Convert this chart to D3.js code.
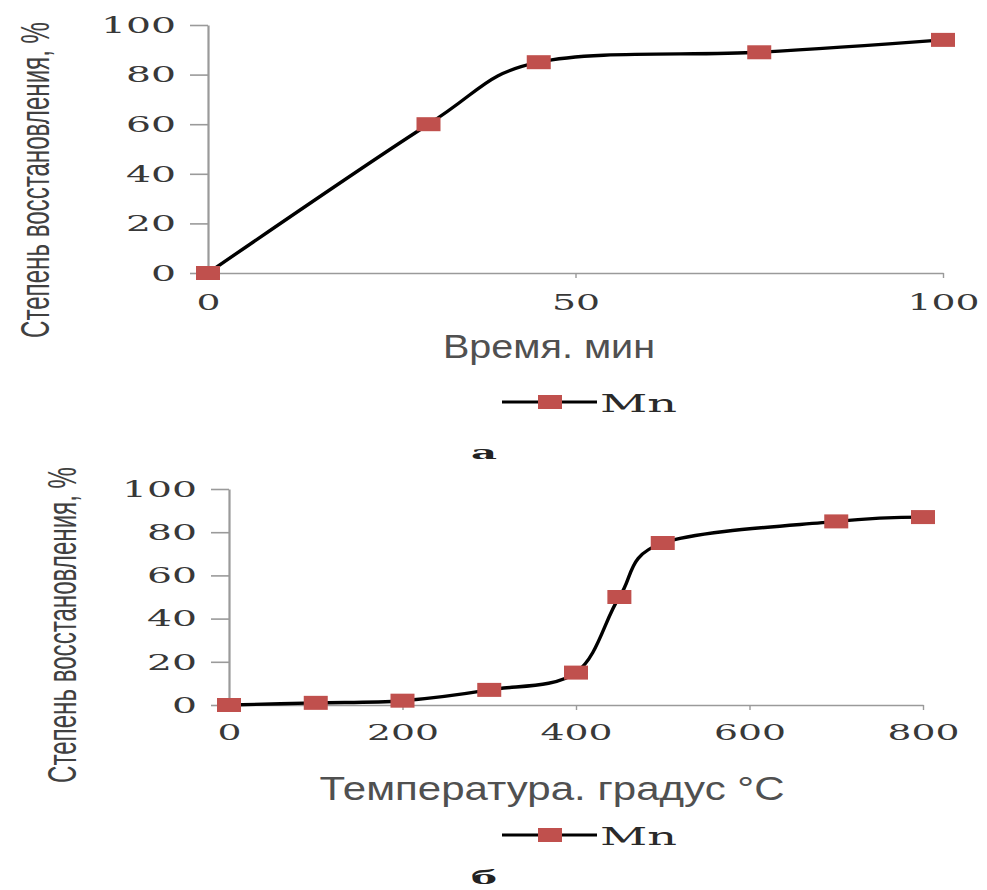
<!DOCTYPE html>
<html>
<head>
<meta charset="utf-8">
<script src="https://cdn.jsdelivr.net/npm/d3@7"></script>
<style>
  body { margin: 0; background: #fff; }
  svg { display: block; }
</style>
</head>
<body>
<svg id="chart"></svg>
<script>
// data
const timeMin = [0, 30, 45, 75, 100];
const mnByTime = [0, 60, 85, 89, 94];
const tempC = [0, 100, 200, 300, 400, 450, 500, 700, 800];
const mnByTemp = [0, 1, 2, 7, 15, 50, 75, 85, 87];
const yTicks = [0, 20, 40, 60, 80, 100];
const timeTicks = [0, 50, 100];
const tempTicks = [0, 200, 400, 600, 800];
const seriesName = 'Mn';
const yTitle = 'Степень восстановления, %';

const Width = 987;
const Height = 890;
const red = '#c0504d';
const axisGrey = '#9a9a9a';
const textGrey = '#383838';

const svg = d3.select('#chart')
  .attr('width', Width)
  .attr('height', Height);

svg.append('rect').attr('width', Width).attr('height', Height).attr('fill', '#fff');

// stretch text horizontally like the reference (digits ~25px wide)
function stretch(sel, perChar) {
  sel.attr('textLength', function() { return this.textContent.length * perChar; })
    .attr('lengthAdjust', 'spacingAndGlyphs');
}

function panel(cfg) {
  const g = svg.append('g');

  const x = d3.scaleLinear().domain(cfg.xDomain).range([cfg.left, cfg.right]);
  const y = d3.scaleLinear().domain([0, 100]).range([cfg.bottom, cfg.top]);

  //Y axis
  const yAxis = g.append('g')
    .attr('transform', `translate(${cfg.left},0)`)
    .call(d3.axisLeft(y).tickValues(yTicks).tickSize(18).tickSizeOuter(0).tickPadding(14));
  yAxis.select('.domain').attr('stroke', axisGrey).attr('stroke-width', 2.2);
  yAxis.selectAll('.tick line').attr('stroke', axisGrey).attr('stroke-width', 1.6);
  yAxis.selectAll('.tick text')
    .attr('fill', textGrey)
    .style('font-family', '"DejaVu Serif", serif')
    .style('font-size', '23px')
    .call(stretch, 25);

  //X axis
  const xAxis = g.append('g')
    .attr('transform', `translate(0,${cfg.bottom})`)
    .call(d3.axisBottom(x).tickValues(cfg.xTicks).tickSize(5).tickSizeOuter(0).tickPadding(cfg.xPad));
  xAxis.select('.domain').attr('stroke', axisGrey).attr('stroke-width', 1.6);
  xAxis.selectAll('.tick line').attr('stroke', axisGrey).attr('stroke-width', 1.4);
  xAxis.selectAll('.tick text')
    .attr('fill', textGrey)
    .style('font-family', '"DejaVu Serif", serif')
    .style('font-size', '23px')
    .call(stretch, 24);

  //Line
  const pts = cfg.xs.map((v, i) => [v, cfg.ys[i]]);
  const line = d3.line()
    .x(d => x(d[0]))
    .y(d => y(d[1]))
    .curve(d3.curveCardinal.tension(0));
  g.append('path')
    .datum(pts)
    .attr('d', line)
    .attr('fill', 'none')
    .attr('stroke', '#000')
    .attr('stroke-width', 3.4);

  //Markers
  g.selectAll('.marker')
    .data(pts)
    .enter()
    .append('rect')
    .classed('marker', true)
    .attr('x', d => x(d[0]) - 12)
    .attr('y', d => y(d[1]) - 7)
    .attr('width', 24)
    .attr('height', 14)
    .attr('fill', red);

  //Axis titles
  g.append('text')
    .attr('x', cfg.xTitleX)
    .attr('y', cfg.xTitleY)
    .attr('text-anchor', 'middle')
    .attr('fill', '#505050')
    .style('font-family', '"Liberation Sans", Arial, sans-serif')
    .style('font-size', '33px')
    .attr('textLength', cfg.xTitleLen)
    .attr('lengthAdjust', 'spacingAndGlyphs')
    .text(cfg.xTitle);

  // rotated title, glyphs thickened across the baseline like the reference
  g.append('text')
    .attr('transform', `translate(${cfg.yTitleX},${cfg.yTitleY}) rotate(-90) scale(1,1.8)`)
    .attr('text-anchor', 'middle')
    .attr('fill', '#404040')
    .style('font-family', '"Liberation Sans", Arial, sans-serif')
    .style('font-size', '23px')
    .attr('textLength', 316)
    .attr('lengthAdjust', 'spacingAndGlyphs')
    .text(yTitle);

  //Legend
  const lg = g.append('g').attr('transform', `translate(0,${cfg.legendY})`);
  lg.append('line')
    .attr('x1', 502).attr('x2', 597)
    .attr('y1', 0).attr('y2', 0)
    .attr('stroke', '#000').attr('stroke-width', 3);
  lg.append('rect')
    .attr('x', 538).attr('y', -7)
    .attr('width', 24).attr('height', 14)
    .attr('fill', red);
  lg.append('text')
    .attr('x', 600).attr('y', 10)
    .attr('fill', '#2a2a2a')
    .style('font-family', '"DejaVu Serif", serif')
    .style('font-size', '24px')
    .attr('textLength', 77)
    .attr('lengthAdjust', 'spacingAndGlyphs')
    .text(seriesName);

  //Panel letter
  g.append('text')
    .attr('x', 484).attr('y', cfg.letterY)
    .attr('text-anchor', 'middle')
    .attr('fill', '#222')
    .style('font-family', '"DejaVu Serif", serif')
    .style('font-weight', 'bold')
    .style('font-size', '19px')
    .attr('textLength', 26)
    .attr('lengthAdjust', 'spacingAndGlyphs')
    .text(cfg.letter);
}

panel({
  xs: timeMin, ys: mnByTime,
  xDomain: [0, 100], xTicks: timeTicks,
  left: 208, right: 943, top: 25, bottom: 273, xPad: 16,
  xTitle: 'Время. мин', xTitleX: 549, xTitleY: 358, xTitleLen: 212,
  yTitleX: 49, yTitleY: 180,
  legendY: 402, letter: 'а', letterY: 459
});

panel({
  xs: tempC, ys: mnByTemp,
  xDomain: [0, 800], xTicks: tempTicks,
  left: 229, right: 923, top: 489, bottom: 705, xPad: 14,
  xTitle: 'Температура. градус °С', xTitleX: 552, xTitleY: 800, xTitleLen: 465,
  yTitleX: 76, yTitleY: 625,
  legendY: 835, letter: 'б', letterY: 884
});
</script>
</body>
</html>
